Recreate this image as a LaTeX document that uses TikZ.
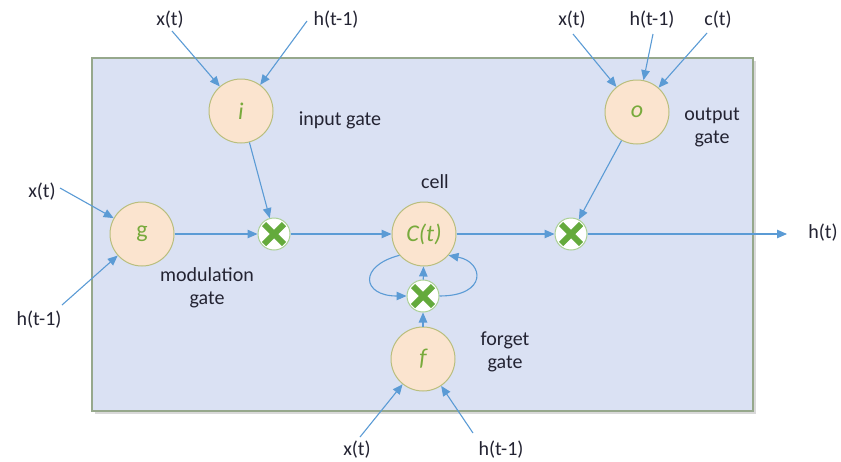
\documentclass[tikz,border=0pt]{standalone}
\usepackage{fontspec}
\setmainfont{Carlito}
\usetikzlibrary{arrows.meta}
\definecolor{boxfill}{RGB}{218,225,243}
\definecolor{boxline}{RGB}{150,168,140}
\definecolor{gatefill}{RGB}{251,228,207}
\definecolor{gateline}{RGB}{185,190,125}
\definecolor{gatetext}{RGB}{120,170,60}
\definecolor{arrowc}{RGB}{91,155,213}
\definecolor{txt}{RGB}{35,35,50}
\definecolor{xgreen}{RGB}{100,170,60}
\begin{document}
\begin{tikzpicture}[x=1pt,y=-1pt,
  gate/.style={circle, minimum size=64pt, inner sep=0pt, fill=gatefill, draw=gateline, line width=1pt, text=gatetext, font=\fontsize{24}{24}\selectfont\itshape},
  mult/.style={circle, minimum size=32pt, inner sep=0pt, fill=white, draw=xgreen!55, line width=1pt,
    path picture={
      \draw[xgreen, line width=6pt] ([shift={(-10pt,-10pt)}]path picture bounding box.center) -- ([shift={(10pt,10pt)}]path picture bounding box.center);
      \draw[xgreen, line width=6pt] ([shift={(-10pt,10pt)}]path picture bounding box.center) -- ([shift={(10pt,-10pt)}]path picture bounding box.center);
    }},
  lbl/.style={text=txt, font=\fontsize{20}{23}\selectfont, inner sep=0pt, align=center},
  arr/.style={draw=arrowc, line width=1.1pt, -{Triangle[length=10pt,width=8.5pt]}, arrowc},
]
\useasboundingbox (0,0) rectangle (841,461);
% box with shadow
\fill[black!15] (95,61) rectangle (756,414);
\draw[fill=boxfill, draw=boxline, line width=2pt] (92,58) rectangle (753,411);

% gates
\node[gate] (i) at (241,111) {i};
\node[gate] (o) at (637,112) {o};
\node[gate, font=\fontsize{24}{24}\selectfont] (g) at (142,234) {g};
\node[gate] (C) at (424,234) {C(t)};
\node[gate] (f) at (423,359) {f};

% multipliers
\node[mult] (m1) at (274,234) {};
\node[mult] (m2) at (571,234) {};
\node[mult] (m3) at (423,296) {};

% descriptive labels
\node[lbl] (li) at (340,120) {input gate};
\node[lbl] (lo) at (712,127) {output\\gate};
\node[lbl] (lg) at (207,288) {modulation\\gate};
\node[lbl] (lc) at (435,182) {cell};
\node[lbl] (lf) at (505,352) {forget\\gate};

% input labels
\node[lbl] (xi) at (170,20) {x(t)};
\node[lbl] (hi) at (336,20) {h(t-1)};
\node[lbl] (xo) at (572,20) {x(t)};
\node[lbl] (ho) at (652,20) {h(t-1)};
\node[lbl] (co) at (718,20) {c(t)};
\node[lbl] (xg) at (42,192) {x(t)};
\node[lbl] (hg) at (39,320) {h(t-1)};
\node[lbl] (xf) at (357,450) {x(t)};
\node[lbl] (hf) at (501,450) {h(t-1)};
\node[lbl] (ht) at (823,233) {h(t)};

% free ends
\coordinate (sxi) at (172,31);
\coordinate (shi) at (307,21);
\coordinate (sxo) at (573,34);
\coordinate (sho) at (653,34);
\coordinate (sco) at (707,33);
\coordinate (sxg) at (60,188);
\coordinate (shg) at (62,305);
\coordinate (sxf) at (360,437);
\coordinate (shf) at (473,433);
\coordinate (eht) at (787,234);

% input arrows
\draw[arr] (sxi) -- (i);
\draw[arr] (shi) -- (i);
\draw[arr] (sxo) -- (o);
\draw[arr] (sho) -- (o);
\draw[arr] (sco) -- (o);
\draw[arr] (sxg) -- (g);
\draw[arr] (shg) -- (g);
\draw[arr] (sxf) -- (f);
\draw[arr] (shf) -- (f);

% internal flow
\draw[arr] (i) -- (m1);
\draw[arr] (g) -- (m1);
\draw[arr] (m1) -- (C);
\draw[arr] (C) -- (m2);
\draw[arr] (o) -- (m2);
\draw[arr] (m2) -- (eht);
\draw[arr] (f) -- (m3);
\draw[arr] (m3) -- (C);
\draw[arr] (C.221) .. controls (358,266) and (362,296) .. (m3.west);
\draw[arr] (m3.east) .. controls (488,296) and (484,262) .. (C.-41);
\end{tikzpicture}
\end{document}
